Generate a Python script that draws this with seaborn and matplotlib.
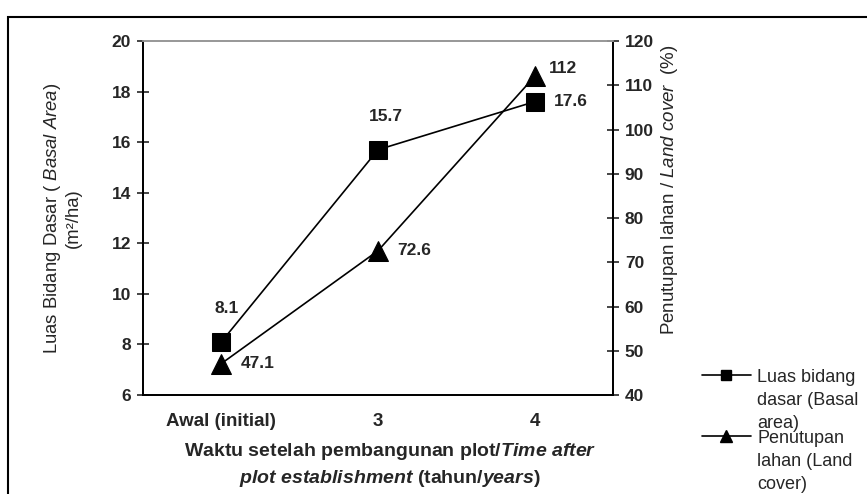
import matplotlib
matplotlib.use('Agg')
import matplotlib.pyplot as plt
import matplotlib.patches as mpatches
from matplotlib.lines import Line2D
import pandas as pd
import seaborn as sns

# Data
periods = ['Awal (initial)', '3', '4']
basal_area = [8.1, 15.7, 17.6]      # m2/ha, left axis
land_cover = [47.1, 72.6, 112]      # %, right axis
basal_labels = ['8.1', '15.7', '17.6']
cover_labels = ['47.1', '72.6', '112']

sns.set_style('white')
plt.rcParams['font.family'] = ['Liberation Sans', 'DejaVu Sans']
plt.rcParams['mathtext.fontset'] = 'custom'
plt.rcParams['mathtext.rm'] = 'Liberation Sans'
plt.rcParams['mathtext.it'] = 'Liberation Sans:italic'
plt.rcParams['mathtext.bf'] = 'Liberation Sans:bold'
plt.rcParams['mathtext.bfit'] = 'Liberation Sans:bold:italic'

df = pd.DataFrame({'period': periods, 'basal': basal_area, 'cover': land_cover})

fig = plt.figure(figsize=(8.67, 4.94), dpi=100)
ax = fig.add_axes([143 / 867, 99 / 494, 470 / 867, 354 / 494])
ax2 = ax.twinx()

sns.lineplot(data=df, x='period', y='basal', ax=ax, color='black', lw=1.2,
             marker='s', markersize=13, markeredgecolor='black', sort=False)
sns.lineplot(data=df, x='period', y='cover', ax=ax2, color='black', lw=1.2,
             marker='^', markersize=14, markeredgecolor='black', sort=False)

ax.set_xlim(-0.5, 2.5)
ax.set_ylim(6, 20)
ax2.set_ylim(40, 120)
ax.set_yticks(range(6, 21, 2))
ax2.set_yticks(range(40, 121, 10))

# category boundaries as major ticks, labels at centres
ax.set_xticks([-0.5, 0.5, 1.5, 2.5])
ax.set_xticklabels([])
ax.set_xticks(range(len(periods)), minor=True)
ax.set_xticklabels(periods, minor=True, fontsize=13.5, fontweight='bold')
ax.tick_params(axis='x', which='minor', length=0, pad=13)
ax.tick_params(axis='x', which='major', direction='inout', length=9, width=1.2)
ax.tick_params(axis='y', direction='inout', length=9, width=1.2, pad=4)
ax2.tick_params(axis='y', direction='inout', length=9, width=1.2, pad=4)
for lab in ax.get_yticklabels() + ax2.get_yticklabels():
    lab.set_fontweight('bold')
    lab.set_fontsize(12.5)

for a in (ax, ax2):
    for s in ['left', 'right', 'bottom']:
        a.spines[s].set_color('black')
        a.spines[s].set_linewidth(1.3)
    a.spines['top'].set_color('#999999')
    a.spines['top'].set_linewidth(1.3)

ax.set_xlabel('')
ax.set_ylabel('Luas Bidang Dasar ( $\\mathit{Basal\\ Area)}$\n(m²/ha)',
              fontsize=13.3, linespacing=1.15)
ax.yaxis.set_label_coords(-0.13, 0.5)
ax2.set_ylabel('Penutupan lahan / $\\mathit{Land\\ cover}$  (%)', fontsize=13.5)
ax2.yaxis.set_label_coords(1.098, 0.58)

fig.text(390 / 867, 1 - 465 / 494,
         'Waktu setelah pembangunan plot/$\\mathbfit{Time\\ after}$\n'
         '$\\mathbfit{plot\\ establishment}$ (tahun/$\\mathbfit{years}$)',
         ha='center', va='center', fontsize=14, fontweight='bold',
         linespacing=1.38)

# value labels
basal_offsets = [(4, 24), (6, 24), (14, 0)]
basal_ha = ['center', 'center', 'left']
for i, (v, t) in enumerate(zip(basal_area, basal_labels)):
    ax.annotate(t, (i, v), xytext=basal_offsets[i], textcoords='offset points',
                ha=basal_ha[i], va='center', fontsize=12.5, fontweight='bold')
cover_offsets = [(14, 0), (14, 0), (10, 6)]
for i, (v, t) in enumerate(zip(land_cover, cover_labels)):
    ax2.annotate(t, (i, v), xytext=cover_offsets[i], textcoords='offset points',
                 ha='left', va='center', fontsize=12.5, fontweight='bold')

# legend at the lower right, outside the axes
handles = [Line2D([], [], color='black', lw=1.2, marker='s', markersize=7),
           Line2D([], [], color='black', lw=1.2, marker='^', markersize=8)]
leg = fig.legend(handles, ['Luas bidang\ndasar (Basal\narea)',
                           'Penutupan\nlahan (Land\ncover)'],
                 loc='upper left', bbox_to_anchor=(702 / 867, 1 - 369 / 494),
                 frameon=False, fontsize=13, handlelength=2.7, handletextpad=0.35,
                 labelspacing=-0.1, borderpad=0, borderaxespad=0)
for t in leg.get_texts():
    t.set_linespacing(1.45)
# put the handle on the first text line, like the original
for col in leg._legend_handle_box.get_children():
    for row in col.get_children():
        row.align = 'top'

# outer frame of the figure
fig.add_artist(mpatches.Rectangle((8 / 867, -0.05), 1.0, 0.05 + 477 / 494,
                                  transform=fig.transFigure, fill=False,
                                  lw=1.5, edgecolor='black', clip_on=False))

fig.savefig('out.png', dpi=100)
